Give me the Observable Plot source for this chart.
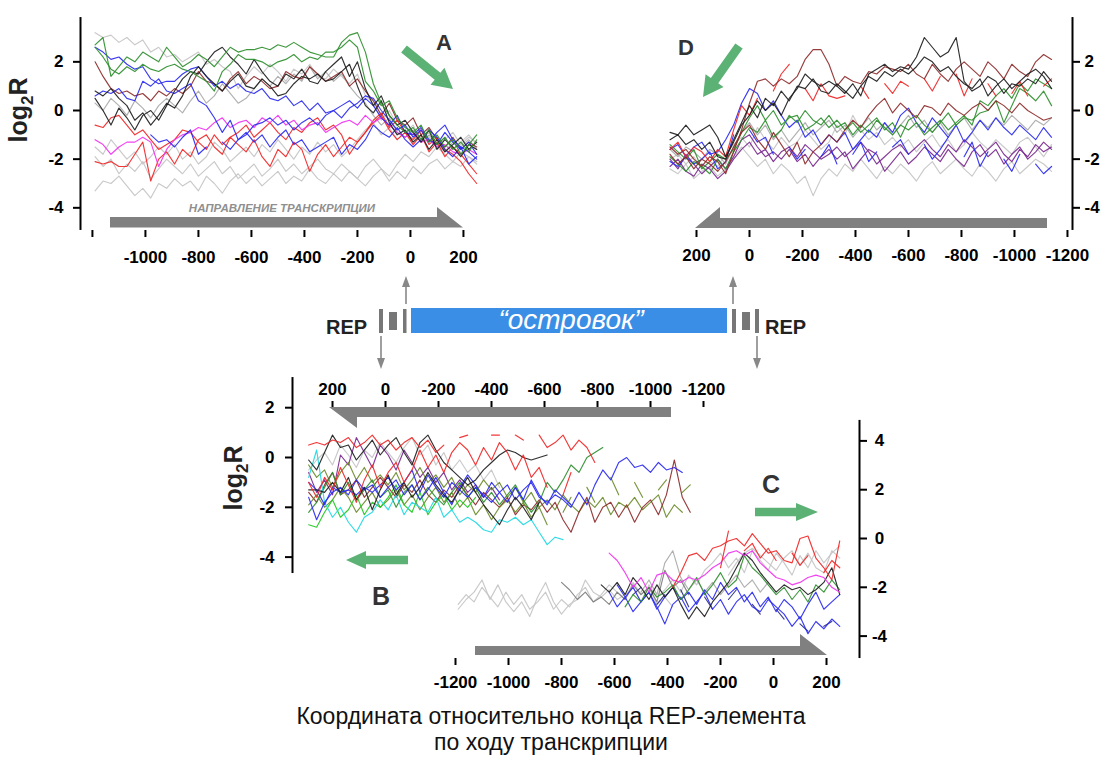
<!DOCTYPE html>
<html><head><meta charset="utf-8">
<script src="https://cdn.jsdelivr.net/npm/d3@7"></script>
<script src="https://cdn.jsdelivr.net/npm/@observablehq/plot@0.6"></script>
<style>
html,body{margin:0;padding:0;background:#fff;}
#wrap{position:relative;width:1103px;height:760px;overflow:hidden;background:#fff;font-family:"Liberation Sans",Arial,Helvetica,sans-serif;}
</style></head><body><div id="wrap"></div>
<script>
const _ = null;
// ---------- sample positions (bp from REP end) ----------
const xA = [-1190,-1160,-1130,-1100,-1070,-1040,-1010,-980,-950,-920,-890,-860,-830,-800,-770,-740,-710,-680,-650,-620,-590,-560,-530,-500,-470,-440,-410,-380,-350,-320,-290,-260,-230,-200,-170,-140,-110,-80,-50,-20,10,40,70,100,130,160,190,220,250];
const xD = [300,270,240,210,180,150,120,90,60,30,0,-30,-60,-90,-120,-150,-180,-210,-240,-270,-300,-330,-360,-390,-420,-450,-480,-510,-540,-570,-600,-630,-660,-690,-720,-750,-780,-810,-840,-870,-900,-930,-960,-990,-1020,-1050,-1080,-1110,-1140];
const xB = [290,260,230,200,170,140,110,80,50,20,-10,-40,-70,-100,-130,-160,-190,-220,-250,-280,-310,-340,-370,-400,-430,-460,-490,-520,-550,-580,-610,-640,-670,-700,-730,-760,-790,-820,-850,-880,-910,-940,-970,-1000,-1030,-1060,-1090,-1120,-1150];
const xC = xA;

// ---------- tick labels ----------
const ticksA = [-1200,-1000,-800,-600,-400,-200,0,200];
const ticksD = [200,0,-200,-400,-600,-800,-1000,-1200];
const ticksB = [200,0,-200,-400,-600,-800,-1000,-1200];
const ticksC = [-1200,-1000,-800,-600,-400,-200,0,200];
const yTicksAD = [-4,-2,0,2];
const yTicksB = [-4,-2,0,2];
const yTicksC = [-4,-2,0,2,4];

// ---------- panel A: log2R ----------
const aGreen1 = [2.7,3.0,1.4,1.8,2.2,2.0,2.4,2.2,2.0,2.6, 2.2,1.8,2.0,2.3,2.1,1.8,2.2,2.6,2.4,2.5, 2.5,2.6,2.5,2.7,2.6,2.8,2.6,2.4,2.3,2.2, 2.2,2.8,3.1,3.2,2.4,1.1,0.3,-0.2,-0.6,-0.9, -0.7,-1.2,-0.8,-1.4,-1.1,-1.6,-1.3,-1.7,-1.2];
const aGreen2 = [2.6,2.2,1.7,1.5,1.8,1.6,1.9,1.7,1.6,1.8, 1.9,1.7,1.6,1.4,1.2,0.8,1.6,1.9,2.3,2.1, 2.1,2.0,1.8,2.0,2.1,2.3,2.0,2.2,2.1,2.4, 2.4,2.6,2.9,2.6,1.2,0.8,0.2,0.4,-0.3,-0.7, -0.9,-0.6,-1.3,-1.0,-1.5,-1.2,-1.8,-1.4,-1.0];
const aBlack1 = [0.5,0.0,-0.6,0.1,-0.3,-0.8,-0.2,0.0,-0.4,0.2, 0.8,1.3,1.6,1.5,2.0,2.4,2.6,2.2,1.9,1.5, 2.1,1.6,1.2,1.0,1.5,1.3,1.7,1.2,1.1,1.6, 1.9,2.2,1.4,2.0,0.9,0.2,0.6,-0.2,-0.6,-0.4, -0.9,-1.3,-0.8,-1.6,-1.2,-1.5,-1.9,-1.4,-1.6];
const aBlack2 = [0.8,0.6,0.9,0.5,0.2,-0.4,-0.1,-0.6,-0.2,0.3, 0.1,0.6,1.4,1.8,1.4,1.1,0.8,1.2,1.5,1.0, 0.9,1.3,1.0,0.6,0.7,1.1,1.4,1.3,1.5,1.2, 1.3,1.6,1.9,1.0,0.2,-0.1,0.4,-0.5,-1.0,-0.8, -1.3,-1.0,-1.6,-1.2,-1.7,-1.4,-1.1,-1.6,-1.3];
const aBlue1 = [2.6,2.4,2.1,2.2,1.9,1.7,1.8,1.3,1.1,1.2, 1.2,1.5,1.7,1.8,1.4,1.0,1.2,0.9,1.1,0.8, 0.7,0.9,0.5,0.4,0.6,0.2,0.4,0.0,0.3,-0.1, 0.0,-0.3,0.1,0.3,0.6,0.5,0.0,-0.4,-0.8,-0.6, -1.1,-0.8,-1.3,-0.9,-0.6,-1.2,-1.5,-1.7,-2.0];
const aBlue2 = [0.6,0.8,0.7,0.9,0.5,0.4,1.2,1.0,1.3,0.8, 0.7,0.9,1.1,0.4,0.2,-0.3,-0.9,-0.4,-1.2,-1.0, -0.6,-0.5,-0.3,-0.6,-0.4,-0.8,-0.5,-0.3,-0.6,-0.2, 0.0,0.2,0.4,0.1,0.5,0.2,-0.3,-0.6,-0.2,-0.9, -1.0,-0.7,-1.2,-1.4,-0.9,-1.3,-1.6,-1.3,-1.8];
const aBlue3 = [_,_,_,_,_,_,_,-1.0,-1.3,-1.2, -1.5,-1.1,-0.8,-1.8,-1.5,_,-1.3,-1.6,-1.2,-0.9, -1.3,-1.0,-1.5,-1.1,-0.8,-1.4,-1.2,-1.7,-1.5,-1.3, -1.1,-1.8,-1.4,-1.6,-1.2,-0.6,-0.9,-1.1,-0.7,-1.2, -1.5,-1.2,-0.8,-1.1,-1.6,-1.9,-1.5,-2.2,-1.9];
const aRed1 = [-2.1,-2.2,-2.1,-2.3,-2.3,-1.8,-1.3,-2.9,-2.0,-1.7, -2.2,-1.6,-1.9,-1.2,-1.0,-1.5,-1.8,-1.1,-1.4,-1.7, -1.2,-1.9,-2.3,-1.6,-1.9,-1.3,-1.6,-2.5,-1.8,-1.4, -1.9,-1.5,-1.1,-1.3,-0.9,-0.4,-0.1,-0.7,-0.4,-0.9, -1.2,-0.8,-1.4,-1.1,-1.6,-1.8,-2.1,-2.6,-3.0];
const aRed2 = [-0.6,-0.7,-0.3,-0.2,-0.6,-1.0,-0.8,-1.2,-1.6,-1.4, -1.2,-0.8,-0.9,-1.3,-1.6,-1.0,-1.4,-1.1,-0.9,-0.6, -1.1,-0.8,-0.5,-0.9,-1.2,-0.7,-0.9,-0.5,-0.3,-0.8, -0.6,-1.0,-1.8,-1.3,-0.9,-0.5,-0.2,-0.8,-1.2,-0.9, -1.4,-1.0,-1.7,-1.3,-1.9,-1.5,-1.8,-2.2,-2.6];
const aMagenta = [-1.2,-1.4,-1.8,-1.5,-1.3,-1.3,-1.1,-1.3,-2.3,-1.6, -1.2,-1.0,-0.9,-0.7,-0.8,-0.5,-0.3,-0.7,-0.5,-0.4, -0.7,-0.3,-0.5,-0.2,-0.6,-0.4,-0.8,-0.6,-0.5,-0.9, -0.7,-0.5,-0.4,-0.6,-0.2,-0.5,-0.3,-0.6,-0.9,-1.1, -0.9,-1.3,-1.2,-1.5,-1.4,-1.7,-1.8,-1.6,-1.8];
const aBrown = [2.0,1.4,0.9,0.7,0.8,0.6,0.7,0.4,0.8,0.6, 0.9,0.7,1.0,1.6,1.2,1.1,0.8,1.3,1.6,1.1, 1.4,1.2,0.9,1.0,1.6,1.4,1.3,1.8,1.5,1.2, 1.4,1.6,1.0,1.3,0.8,0.4,-0.2,0.3,-0.4,-0.6, -0.3,-1.0,-0.7,-1.2,-1.5,-1.1,-1.6,-1.3,-1.5];
const aGray1 = [3.2,3.0,3.1,2.8,3.0,2.7,2.9,2.4,2.6,2.2, 2.3,2.0,2.2,2.4,1.9,2.1,1.8,1.6,0.9,1.4, 1.8,1.5,1.9,1.6,1.2,1.7,1.5,1.9,1.4,1.3, 1.7,1.4,1.1,1.5,0.6,0.3,-0.4,0.0,-0.6,-0.9, -0.6,-1.2,-0.9,-1.5,-1.1,-1.6,-1.3,-1.0,-1.4];
const aGray2 = [-1.9,-2.3,-2.0,-2.6,-2.2,-2.5,-2.1,-2.8,-2.4,-2.0, -2.3,-2.6,-2.2,-2.7,-2.4,-2.1,-2.6,-2.3,-2.8,-2.5, -2.2,-2.7,-2.4,-2.0,-2.5,-2.2,-2.6,-2.3,-2.0,-2.4, -2.6,-2.2,-2.5,-2.8,-2.3,-2.0,-2.4,-2.7,-2.2,-1.8, -2.1,-1.7,-1.9,-1.5,-1.8,-2.1,-1.7,-1.9,-2.2];
const aGray3 = [-3.3,-2.9,-3.0,-2.7,-3.1,-3.5,-3.2,-3.6,-3.0,-3.2, -2.8,-3.1,-2.9,-3.3,-2.7,-3.0,-3.4,-2.9,-2.6,-3.0, -2.7,-3.1,-2.8,-2.5,-3.0,-2.7,-2.9,-2.4,-2.8,-3.0, -2.6,-2.9,-2.5,-2.8,-3.1,-2.7,-2.4,-2.9,-2.5,-2.8, -2.3,-2.6,-2.2,-2.0,-2.4,-2.1,-2.3,-1.9,-2.1];
const aGray4 = [-1.5,-1.8,-1.2,-1.6,-2.0,-1.7,-2.2,-1.9,-1.5,-1.8, -1.4,-2.0,-1.7,-2.2,-1.9,-1.3,-1.6,-2.1,-1.8,-1.5, -1.9,-1.4,-1.7,-1.2,-1.6,-2.0,-1.5,-1.8,-1.3,-1.7, -1.4,-1.9,-1.6,-1.2,-0.8,-0.5,-1.0,-0.7,-1.2,-0.9, -1.3,-0.8,-1.1,-1.5,-1.2,-0.9,-1.4,-1.1,-1.3];
const aGray5 = [0.3,0.0,0.5,0.2,-0.2,0.4,0.1,-0.3,0.2,0.5, 0.2,-0.1,0.4,0.8,0.3,0.6,1.1,0.7,0.3,0.5, 0.9,1.3,1.0,1.4,1.1,1.5,1.2,1.8,1.3,1.6, 1.2,1.5,1.0,0.6,0.3,-0.2,-0.6,-0.3,-0.9,-1.1, -0.8,-1.3,-1.0,-1.4,-1.7,-1.3,-1.5,-1.2,-1.6];

// ---------- panel D: log2R ----------
const dBrown1 = [-1.5,-1.8,-1.6,-2.0,-2.3,-1.9,-2.1,-2.6,-1.7,-0.8, 0.3,1.2,1.3,1.0,1.3,1.1,1.4,2.1,2.5,2.5, 1.9,1.0,1.4,1.2,1.1,1.6,1.5,1.8,1.7,1.6, 1.9,1.5,1.3,1.9,1.5,1.2,1.7,2.0,1.7,1.4, 2.0,1.7,1.3,1.9,1.6,1.4,2.0,2.3,2.1];
const dBlack1 = [-0.9,-1.0,-0.6,-1.0,-0.8,-0.6,-1.1,-1.9,-1.3,-0.6, -0.2,0.4,0.0,0.3,-0.2,0.5,0.9,1.5,1.2,1.0, 1.2,1.0,0.7,1.1,0.6,1.5,1.7,1.9,1.6,1.8, 1.7,2.2,3.0,2.6,2.2,2.4,3.0,1.2,0.8,1.0, 1.4,1.2,0.7,1.1,1.0,1.3,1.1,1.6,1.2];
const dBlack2 = [-1.2,-1.0,-1.4,-1.2,-1.6,-1.3,-1.9,-2.0,-1.2,-0.5, 0.2,-0.3,0.5,0.2,0.8,0.4,1.0,0.9,1.3,0.8, 0.7,1.1,0.8,0.5,1.0,1.4,1.2,1.6,1.4,1.7, 1.5,1.8,2.2,2.0,1.6,1.8,1.4,1.1,0.9,1.3, 0.6,1.0,1.3,0.9,1.2,1.5,1.7,1.4,0.9];
const dRed1 = [-1.6,-1.3,-1.9,-1.5,-1.7,-2.1,-1.6,-1.9,-0.8,0.2, -0.2,0.5,_,0.8,1.5,1.9,_,0.9,0.4,1.1, 0.6,0.5,0.6,_,1.0,0.5,_,1.1,0.7,1.2, 1.0,_,1.3,0.8,1.4,_,1.5,0.6,1.3,_, 1.1,0.6,_,0.7,1.2,0.6,_,1.0,1.3];
const dBrown2 = [-1.8,-2.2,-1.9,-2.4,-2.0,-2.2,-2.5,-2.1,-1.5,-0.9, -0.6,-1.2,-1.6,-0.9,-1.4,-1.9,-1.3,-2.2,-1.7,-1.4, -1.0,-1.3,-0.8,-0.4,-0.7,-0.2,0.2,0.5,-0.1,0.3, 0.0,-0.3,0.2,0.1,-0.2,0.3,0.0,-0.2,0.1,0.3, 0.0,0.4,0.2,-0.1,0.3,0.0,-0.2,-0.4,-0.3];
const dGreen1 = [-1.4,-1.7,-2.0,-1.6,-2.4,-2.1,-1.8,-2.0,-1.6,-0.9, -0.3,0.2,-0.4,0.0,-0.6,-0.3,-0.2,-0.8,-0.6,-0.3, -0.7,-0.4,-0.8,-0.5,-0.9,-0.6,-0.3,-0.8,-0.5,-1.1, -0.4,-0.2,-0.6,-0.9,-0.5,-0.1,-0.6,-0.3,-0.4,-0.1, 0.0,0.4,-0.5,0.2,0.9,0.7,0.4,0.8,0.2];
const dGreen2 = [-1.9,-2.2,-2.5,-2.1,-2.3,-2.6,-2.0,-2.4,-1.7,-1.2, -0.7,-0.9,-0.4,-1.1,-0.8,-0.2,-0.5,0.0,-0.4,-0.6, -0.2,-0.7,-0.5,-1.0,-0.6,-0.9,-0.4,-0.7,-1.0,-0.6, -0.8,-0.5,-1.0,-0.7,-0.4,-0.8,-0.5,-0.2,-0.6,0.4, 0.2,0.6,0.9,0.5,1.1,0.8,1.3,1.1,0.9];
const dBlue1 = [-1.6,-1.4,-1.9,-1.5,-1.3,-1.8,-1.7,-1.2,-0.6,0.3, 0.9,0.7,0.0,0.4,-0.2,-0.7,-0.4,-1.1,-0.8,-1.4, -1.0,-1.3,-0.9,-1.6,-1.2,-0.8,-1.1,-0.5,-0.9,-0.2, 0.1,-0.5,-0.9,-0.3,-0.7,-1.1,-0.6,-1.3,-0.9,-0.4, -0.8,-0.3,-0.7,-1.0,-0.6,-0.9,-1.2,-0.7,-1.1];
const dBlue2 = [-2.1,-2.3,-1.9,-2.2,-2.0,-1.7,-2.4,-2.1,-1.0,_, -0.8,-1.3,-1.1,-1.8,_,-1.5,-2.0,-1.6,_,-1.9, -1.4,-2.2,_,-1.8,-1.3,-2.1,-1.7,_,-1.5,-1.2, -1.8,_,-1.4,-2.0,-1.6,-1.1,_,-1.9,-1.3,-2.3, -1.7,_,-2.0,-2.5,-1.8,_,-2.2,-2.6,-2.3];
const dPurple1 = [-2.0,-2.4,-1.8,-2.2,-2.6,-2.3,-2.0,-2.4,-1.9,-1.2, -1.0,-1.5,-1.9,-1.7,-2.0,-1.6,-2.1,-1.8,-2.3,-1.9, -1.6,-2.0,-1.7,-2.4,-2.0,-1.6,-1.8,-2.5,-2.1,-1.7, -2.2,-1.9,-1.5,-1.8,-2.1,-1.6,-2.0,-2.3,-1.7,-1.4, -1.9,-1.6,-2.2,-1.8,-1.5,-2.0,-1.7,-1.3,-1.6];
const dPurple2 = [-2.3,-2.0,-2.5,-2.7,-2.2,-2.4,-2.8,-2.5,-2.0,-1.6, -1.3,-1.8,-1.6,-2.1,-1.7,-1.5,-1.9,-1.4,-1.7,-2.0, -1.8,-1.5,-1.9,-1.6,-1.3,-1.7,-2.2,-1.9,-1.6,-1.4, -1.8,-1.5,-1.2,-1.6,-1.9,-1.4,-1.7,-1.2,-1.5,-1.9, -1.6,-1.3,-1.8,-2.1,-1.6,-1.9,-1.4,-1.7,-1.5];
const dGray1 = [-2.4,-2.6,-2.2,-2.8,-2.5,-2.3,-2.7,-2.4,-1.9,-1.5, -1.9,-2.3,-2.0,-2.6,-2.2,-2.5,-3.0,-2.7,-3.5,-2.8, -2.4,-2.7,-2.2,-2.5,-2.0,-2.4,-2.8,-2.3,-2.6,-2.2, -2.5,-2.9,-2.4,-2.1,-2.6,-2.3,-2.0,-2.4,-2.7,-2.2, -2.5,-2.9,-2.4,-2.1,-2.6,-2.3,-2.0,-2.2,-2.5];
const dGray2 = [-2.0,-1.8,-2.2,-1.9,-2.4,-2.1,-2.3,-1.8,-1.4,-1.1, -1.5,-0.7,-1.2,-1.6,-1.1,-1.5,-1.3,-0.8,-1.2,-1.6, -1.3,-0.6,-1.0,-0.2,-0.8,-1.2,-0.9,-1.4,-1.1,-1.5, -1.2,-1.7,-1.3,-1.0,-1.5,-1.2,-1.7,-1.4,-0.9,-1.3, -1.6,-1.2,-1.5,-1.8,-1.3,-1.1,-1.5,-1.9,-1.4];
const dGray3 = [-1.6,-1.9,-1.5,-1.7,-2.0,-1.6,-1.8,-2.2,-1.5,-0.9, -0.5,-1.0,-0.6,-1.2,-0.8,-1.3,-0.9,-0.5,-1.0,-0.7, -0.4,-0.9,-0.6,-1.1,-0.7,-0.3,-0.8,-0.5,-1.0,-0.6, -0.2,-0.7,-0.4,-0.9,-0.5,-1.0,-0.6,-0.3,-0.8,-0.4, -0.7,-0.3,-0.6,-0.2,-0.5,-0.8,-0.4,-0.6,-0.3];

// ---------- panel B: log2R ----------
const bRed1 = [0.5,0.6,0.5,0.7,0.6,0.8,0.4,0.6,0.9,0.5, 0.7,0.3,0.6,0.8,0.4,0.7,0.2,0.5,_,0.8, 0.9,_,_,0.9,0.9,_,0.9,0.7,_,0.9, 0.4,0.6,0.9,0.3,0.7,0.4,-0.2,_,_,_, _,_,_,_,_,_,_,_,_];
const bRed2 = [-1.0,-1.6,-0.8,-1.3,-0.4,-1.1,-1.8,-0.9,-0.3,-1.2, -0.6,-0.2,-1.0,-0.5,0.3,-0.4,0.1,-0.6,0.2,0.6, 0.3,-0.3,0.4,-0.1,0.6,0.2,-0.5,0.1,-0.8,-0.4, -1.2,_,-1.5,-0.6,_,-1.8,_,_,_,_, _,_,_,_,_,_,_,_,_];
const bBlack1 = [-0.1,-0.5,0.2,0.9,0.4,0.5,-0.1,0.3,0.7,0.1, 0.5,0.8,0.2,-0.3,0.6,0.9,0.3,-0.2,-0.5,-0.8, -1.1,-0.9,-0.5,-0.2,0.1,0.3,0.2,0.0,-0.1,0.0, 0.1,_,_,_,_,_,_,_,_,_, _,_,_,_,_,_,_,_,_];
const bBlack2 = [-1.3,-1.3,-1.4,-1.0,-1.4,-0.8,-1.7,-1.2,-2.1,-1.3, -0.7,-1.5,-1.0,-1.6,-1.2,-0.6,-1.1,-1.5,-1.8,-1.3, -0.8,-1.4,-1.9,-2.3,-2.7,-2.1,-1.6,-2.0,-2.5,-1.8, _,_,_,_,_,_,_,_,_,_, _,_,_,_,_,_,_,_,_];
const bBlue1 = [-1.0,-1.3,-1.9,-1.2,-1.4,-1.3,-1.5,-1.2,-1.4,-1.1, -0.8,-1.3,-1.0,-0.5,-1.4,-0.7,-1.2,-1.6,-1.0,-1.3, -1.6,-1.2,-1.5,-1.8,-1.4,-1.1,-1.7,-1.3,-1.0,-1.6, -1.8,-1.5,-1.7,-2.0,-1.4,-1.9,-1.1,-0.5,-0.9,-0.2, 0.0,-0.4,-0.3,-0.6,-0.2,-0.5,-0.4,-0.6,_];
const bBlue2 = [-1.6,-2.5,-1.8,-1.4,-1.2,-1.5,-0.9,-1.3,-1.1,-1.6, -1.2,-0.9,-1.5,-1.1,-1.7,-1.3,-0.8,-1.4,-1.9,-1.2, -0.7,-1.1,-1.6,-1.0,-1.4,-1.8,-1.2,-1.7,-0.9,-1.5, -1.9,-1.3,-1.6,-1.9,_,_,_,_,_,_, _,_,_,_,_,_,_,_,_];
const bCyan = [-0.8,0.3,-1.8,-2.4,-2.0,-2.6,-3.0,-2.4,-2.2,-1.7, -2.1,-1.5,-2.3,-1.8,-2.0,-2.2,-1.6,-2.4,-2.1,-2.6, -2.4,-2.6,-2.9,-3.0,-2.5,-2.6,-2.4,-2.7,-2.5,-3.0, -3.5,-3.2,-3.3,_,_,_,_,_,_,_, _,_,_,_,_,_,_,_,_];
const bLime = [-2.7,-2.8,-2.2,-1.7,-2.4,-2.1,-1.5,-2.3,-1.8,-2.0, -1.6,-1.1,-1.9,-2.2,-1.4,-2.3,-1.8,-1.5,-2.1,-1.7, -2.0,-1.6,_,_,_,_,_,_,_,_, _,_,_,_,_,_,_,_,_,_, _,_,_,_,_,_,_,_,_];
const bGreen = [-2.2,-1.8,-1.2,-0.6,-1.5,-1.0,-1.7,-1.3,-0.9,-1.6, -1.3,-2.0,-1.4,-1.1,-1.7,-1.2,-1.6,-1.9,-1.4,-1.0, -1.6,-1.2,-1.8,-1.4,-1.9,-1.5,-1.1,-1.7,-2.2,-1.8, -1.0,-1.4,-0.9,-0.3,-0.6,0.0,0.2,0.4,_,_, _,_,_,_,_,_,_,_,_];
const bOlive = [-1.9,-1.5,-2.0,-1.7,-1.2,-1.6,-2.2,-1.8,-1.4,-2.0, -1.7,-1.3,-1.9,-1.5,-2.1,-1.6,-1.2,-1.8,-1.4,-2.0, -1.6,-2.3,-1.9,-2.5,-2.0,-1.7,-2.2,-1.8,-2.4,-2.0, -2.7,_,-2.2,-1.6,_,-1.2,-1.8,_,-0.8,-1.5, _,-1.0,-1.6,_,-1.3,-0.9,_,-1.4,-1.1];
const bBrown1 = [-1.4,-1.8,-1.1,-0.6,-1.5,-1.3,-0.9,-1.6,-1.2,-0.8, -1.2,-1.6,-1.1,-1.4,-0.9,-1.5,-1.8,-1.3,-1.6,-1.1, -1.5,-1.9,-1.4,-1.7,-2.0,-1.6,-2.3,-1.9,-2.1,-1.7, -2.2,-1.8,-2.5,-3.0,-2.2,-1.6,-2.6,-2.0,-1.8,-2.4, -1.9,-2.6,-2.0,-1.7,-2.3,-1.5,-0.1,-1.6,-2.2];
const bBrown2 = [-0.3,-0.8,-0.5,-1.2,-0.6,-0.2,-0.9,-0.4,-1.0,-0.7, -1.1,-0.6,-1.3,-0.9,-0.4,-1.0,-0.7,-1.2,-0.8,-1.5, -1.1,-1.4,-0.9,-1.3,-1.0,-1.6,-1.2,-1.8,-1.4,-2.0, -1.7,-2.1,-1.5,-1.9,-2.2,-1.7,-2.0,-1.6,-2.3,-1.8, -2.0,-1.6,-2.1,-1.8,-1.5,-2.4,-1.9,-2.2,_];
const bPurple = [-0.6,-1.4,-0.9,-1.5,0.1,-0.3,0.8,0.2,-0.4,0.5, 0.1,-0.5,0.3,-0.2,-0.8,-0.4,-1.0,-0.6,-1.3,-0.9, -1.4,-1.1,-1.6,-1.2,-1.7,_,_,_,_,_, _,_,_,_,_,_,_,_,_,_, _,_,_,_,_,_,_,_,_];
const bGray = [-0.5,-0.1,0.2,-0.3,0.5,0.1,-0.4,0.3,0.0,0.6, 0.2,-0.2,0.4,0.8,0.1,0.5,-0.3,0.2,-0.5,-0.1, -0.6,-0.3,-0.9,-0.5,-1.2,_,_,_,_,_, _,_,_,_,_,_,_,_,_,_, _,_,_,_,_,_,_,_,_];

// ---------- panel C: log2R ----------
const cGray1 = [-2.9,-2.5,-2.2,-1.7,-2.5,-1.9,-2.6,-3.0,-2.6,-3.2, -2.4,-1.8,-2.6,-3.1,-2.7,-2.5,-1.7,-2.2,-2.4,-2.1, -2.5,-2.3,-2.0,-2.6,-1.9,-2.4,-2.1,-1.7,-2.2,-1.5, -1.9,-1.3,-1.0,-0.6,-1.2,-0.8,-1.4,-0.5,-0.9,-1.3, -0.6,-1.0,-1.5,-0.7,-1.2,-0.5,-1.0,-0.6,-0.3];
const cGray2 = [-2.7,-2.3,-2.6,-2.0,-2.4,-2.8,-2.2,-2.7,-2.3,-2.9, -2.6,-2.2,-2.9,-2.5,-2.8,-2.3,-2.0,-2.6,-2.3,-1.9, -2.2,-2.5,-1.8,-2.3,-2.0,-2.7,-2.4,-2.8,_,_, _,_,_,_,_,_,_,_,_,_, _,_,_,_,_,_,_,_,_];
const cGray3 = [_,_,_,_,_,_,_,_,_,_, _,_,_,-1.8,-2.1,-2.5,-2.2,-2.6,-2.4,-2.7, -2.2,-2.5,-1.9,-2.3,-2.0,-2.6,-1.3,-2.0,-1.7,-2.3, _,_,_,_,_,_,_,_,_,_, _,_,_,_,_,_,_,_,_];
const cGray4 = [_,_,_,_,_,_,_,_,_,_, _,_,_,_,_,_,_,_,_,_, _,_,_,_,_,_,_,_,_,_, _,_,_,_,-1.5,-1.0,-0.6,-0.4,-0.7,-1.0, -1.3,-0.8,-0.5,-1.1,-0.6,-1.2,-1.4,-0.5,-0.8];
const cGray5 = [_,_,_,_,_,_,_,_,_,_, _,_,_,_,_,_,_,_,_,_, _,_,_,-2.2,-1.7,-2.3,-1.0,-0.5,-1.6,-2.1, -1.7,-2.2,-1.8,-2.3,-1.9,-1.5,-2.0,-1.7,-2.2,-1.8, _,_,_,_,_,_,_,_,_];
const cBlack = [_,_,_,_,_,_,_,_,_,_, _,_,_,_,_,_,_,_,-1.9,-2.2, -1.8,-2.3,-1.6,-2.0,-2.5,-1.9,-2.4,-2.0,-2.7,-3.3, -2.8,-3.2,-2.6,-2.2,-1.8,-1.2,-0.6,-0.9,-1.4,-1.8, -2.2,-1.9,-2.1,-2.0,-2.3,-2.1,-1.8,-1.2,-2.3];
const cBlue1 = [_,_,_,_,_,_,_,_,_,_, _,_,_,_,_,_,_,_,_,-2.2, -2.8,-2.4,-3.0,-2.6,-2.2,-2.8,-3.5,-2.7,-2.4,-3.0, -2.6,-2.2,-2.9,-2.5,-3.1,-2.6,-2.3,-2.8,-3.0,-2.5, -2.8,-3.1,-3.6,-3.2,-3.9,-3.4,-3.7,-3.3,-3.6];
const cBlue2 = [_,_,_,_,_,_,_,_,_,_, _,_,_,_,_,_,_,_,_,_, -1.9,-2.4,-2.0,-2.6,-2.2,-2.9,-2.4,-2.0,-2.5,-2.2, -2.7,-2.1,-2.5,-1.8,-2.3,-2.0,-2.6,-2.2,-2.8,-2.4, -3.0,-2.5,-2.8,-3.3,-2.7,-2.2,-2.9,-2.6,-2.3];
const cNavy = [_,_,_,_,_,_,_,_,_,_, _,_,_,_,_,_,_,_,_,_, _,_,-2.3,-2.0,_,-2.7,-2.3,_,-2.1,-2.8, _,-2.4,-2.9,_,-2.5,-2.1,_,-2.7,-3.1,_, -2.9,-3.3,_,-3.5,-3.8,_,-3.6,-3.4,_];
const cGreen = [_,_,_,_,_,_,_,_,_,_, _,_,_,_,_,_,_,_,_,_, _,-2.8,-2.3,-2.6,-2.0,-2.4,-2.2,-1.9,-2.5,-2.1, -1.6,-2.3,-1.9,-1.4,-2.0,-1.7,-0.7,-1.2,-1.5,-1.9, -2.3,-2.0,-2.5,-2.1,-2.6,-1.9,-2.2,-1.7,-2.1];
const cMagenta = [_,_,_,_,_,_,_,_,_,_, _,_,_,_,_,_,_,_,_,-0.6, -0.9,-1.4,-2.0,-1.6,-2.2,-1.5,-1.4,-1.7,-1.8,-1.6, -1.7,-1.5,-1.2,-1.0,-0.6,-0.5,-0.7,-0.5,-1.0,-1.3, -1.6,-1.7,-1.9,-1.8,-1.6,-1.5,-1.6,-2.0,-2.2];
const cRed1 = [_,_,_,_,_,_,_,_,_,_, _,_,_,_,_,_,_,_,_,_, _,_,_,_,_,_,_,-2.0,-1.4,-0.7, -0.6,-0.9,-0.4,-0.3,-0.1,0.0,-0.3,0.2,-0.2,-0.6, -0.5,-0.9,-1.0,0.0,0.1,-0.8,-1.2,-1.7,-0.1];
const cRed2 = [_,_,_,_,_,_,_,_,_,_, _,_,_,_,_,_,_,_,_,_, _,_,_,_,_,_,_,_,_,_, _,_,_,-1.2,0.3,_,-0.5,-0.2,-0.8,-0.4, -0.9,_,-0.6,-1.1,-0.7,_,-1.4,-0.9,-1.2];

// ---------- colours ----------
const COL = {green:"#2f8f2f", black:"#1e1e1e", blue:"#2b2bf0", red:"#f02828", magenta:"#f033f0",
  brown:"#8e2c2c", gray:"#c4c4c4", gray2:"#a9a9a9", dgray:"#7d7d7d", purple:"#7a2a8f",
  cyan:"#22d8e2", lime:"#22c922", olive:"#6c8c2c", navy:"#2c2c82"};

const seriesA = [[aGray1,"gray"],[aGray2,"gray"],[aGray3,"gray"],[aGray4,"gray"],[aGray5,"gray2"],
  [aBrown,"brown"],[aRed1,"red"],[aRed2,"red"],[aMagenta,"magenta"],[aBlue1,"blue"],[aBlue2,"blue"],[aBlue3,"blue"],
  [aBlack1,"black"],[aBlack2,"black"],[aGreen1,"green"],[aGreen2,"green"]];
const seriesD = [[dGray1,"gray"],[dGray2,"gray"],[dGray3,"gray2"],[dPurple1,"purple"],[dPurple2,"purple"],
  [dBlue1,"blue"],[dBlue2,"blue"],[dGreen1,"green"],[dGreen2,"green"],[dBrown2,"brown"],[dRed1,"red"],
  [dBrown1,"brown"],[dBlack1,"black"],[dBlack2,"black"]];
const seriesB = [[bGray,"gray"],[bPurple,"purple"],[bBrown2,"olive"],[bBrown1,"brown"],[bOlive,"olive"],
  [bGreen,"green"],[bLime,"lime"],[bCyan,"cyan"],[bBlue2,"blue"],[bBlue1,"blue"],[bBlack2,"black"],
  [bBlack1,"black"],[bRed2,"red"],[bRed1,"red"]];
const seriesC = [[cGray1,"gray"],[cGray2,"gray"],[cGray3,"dgray"],[cGray4,"gray"],[cGray5,"gray2"],
  [cNavy,"navy"],[cBlue1,"blue"],[cBlue2,"blue"],[cGreen,"green"],[cBlack,"black"],[cMagenta,"magenta"],
  [cRed2,"red"],[cRed1,"red"]];

const FONT = '"Liberation Sans", Arial, Helvetica, sans-serif';
const wrap = document.getElementById("wrap");

function rowsOf(xs, list) {
  const rows = [];
  list.forEach(([vals, c], i) => vals.forEach((v, j) => rows.push({id: i, x: xs[j], y: v == null ? NaN : v, c: COL[c]})));
  return rows;
}
function lines(rows) {
  return Plot.line(rows, {x: "x", y: "y", z: "id", stroke: "c", strokeWidth: 1.15, strokeOpacity: 0.92});
}
function mount(svg, left, top) {
  Object.assign(svg.style, {position: "absolute", left: left + "px", top: top + "px", background: "transparent",
    maxWidth: "none", overflow: "visible", fontFamily: FONT, fontWeight: "bold"});
  wrap.appendChild(svg);
}
const fmt = d => String(d);

// Panel A
mount(Plot.plot({
  width: 490, height: 270, marginLeft: 80, marginRight: 8.5, marginTop: 0, marginBottom: 40,
  x: {domain: [-1245, 270], range: [80, 481.5], label: null},
  y: {domain: [-5, 4], range: [231.65, 12.68], label: null},
  color: {type: "identity"},
  marks: [
    lines(rowsOf(xA, seriesA)),
    Plot.ruleX([-1245], {y1: -4.93, y2: 3.82, strokeWidth: 2}),
    Plot.axisY({anchor: "left", ticks: yTicksAD, tickSize: 7, tickPadding: 10, tickFormat: fmt, fontSize: 17, strokeWidth: 2, label: null}),
    Plot.axisX({anchor: "bottom", ticks: ticksA, tickSize: 7, tickPadding: 13, tickFormat: d => d === -1200 ? "" : String(d), fontSize: 17, strokeWidth: 2, label: null})
  ]
}), 0, 0);

// Panel D
mount(Plot.plot({
  width: 463, height: 270, marginLeft: 27, marginRight: 31, marginTop: 0, marginBottom: 40,
  x: {domain: [310, -1219], range: [26.85, 432], label: null},
  y: {domain: [-5, 4], range: [231.65, 12.68], label: null},
  color: {type: "identity"},
  marks: [
    lines(rowsOf(xD, seriesD)),
    Plot.ruleX([-1219], {y1: -4.93, y2: 3.82, strokeWidth: 2}),
    Plot.axisY({anchor: "right", ticks: yTicksAD, tickSize: 7, tickPadding: 5, textAnchor: "start", tickFormat: fmt, fontSize: 17, strokeWidth: 2, label: null}),
    Plot.axisX({anchor: "bottom", ticks: ticksD, tickSize: 7, tickPadding: 11, tickFormat: fmt, fontSize: 17, strokeWidth: 2, label: null})
  ]
}), 640, 0);

// Panel B
mount(Plot.plot({
  width: 520, height: 220, marginLeft: 92, marginRight: 3.75, marginTop: 36, marginBottom: 0,
  x: {domain: [351, -1250], range: [92, 516.25], label: null},
  y: {domain: [-5, 3.4], range: [211.5, 2.34], label: null},
  color: {type: "identity"},
  marks: [
    lines(rowsOf(xB, seriesB)),
    Plot.ruleX([351], {y1: -4.66, y2: 3.21, strokeWidth: 2}),
    Plot.axisY({anchor: "left", ticks: yTicksB, tickSize: 7, tickPadding: 11, tickFormat: fmt, fontSize: 17, strokeWidth: 2, label: null}),
    Plot.axisX({anchor: "top", ticks: ticksB, tickSize: 6, tickPadding: 6, tickFormat: fmt, fontSize: 17, strokeWidth: 2, label: null})
  ]
}), 200, 370);

// Panel C
mount(Plot.plot({
  width: 473, height: 290, marginLeft: 9, marginRight: 44, marginTop: 0, marginBottom: 42,
  x: {domain: [-1260, 324.5], range: [9.1, 429], label: null},
  y: {domain: [-5, 5], range: [250, 6], label: null},
  color: {type: "identity"},
  marks: [
    lines(rowsOf(xC, seriesC)),
    Plot.ruleX([324.5], {y1: -4.92, y2: 4.84, strokeWidth: 2}),
    Plot.axisY({anchor: "right", ticks: yTicksC, tickSize: 7, tickPadding: 13, textAnchor: "middle", tickFormat: fmt, fontSize: 17, strokeWidth: 2, label: null}),
    Plot.axisX({anchor: "bottom", ticks: ticksC, tickSize: 7, tickPadding: 10, tickFormat: fmt, fontSize: 17, strokeWidth: 2, label: null})
  ]
}), 430, 410);

// ---------- annotation overlay ----------
function poly(pts, fill) { return `<polygon points="${pts.map(p => p.join(",")).join(" ")}" fill="${fill}"/>`; }
function greenArrow(x1, y1, x2, y2, w, hw, hl) {
  const dx = x2 - x1, dy = y2 - y1, L = Math.hypot(dx, dy), ux = dx / L, uy = dy / L, px = -uy, py = ux;
  const bx = x2 - ux * hl, by = y2 - uy * hl;
  return poly([[x1 + px * w / 2, y1 + py * w / 2], [bx + px * w / 2, by + py * w / 2], [bx + px * hw / 2, by + py * hw / 2],
    [x2, y2], [bx - px * hw / 2, by - py * hw / 2], [bx - px * w / 2, by - py * w / 2], [x1 - px * w / 2, y1 - py * w / 2]], "#5cb175");
}
function thinArrow(x, y1, y2) {
  const d = y2 > y1 ? 1 : -1;
  return `<line x1="${x}" y1="${y1}" x2="${x}" y2="${y2 - d * 9}" stroke="#888" stroke-width="1.6"/>` +
    poly([[x - 4, y2 - d * 11], [x + 4, y2 - d * 11], [x, y2]], "#888");
}
const G = "#808080";
let s = `<svg xmlns="http://www.w3.org/2000/svg" width="1103" height="760" style="position:absolute;left:0;top:0;pointer-events:none" font-family='${FONT}'>`;
// gray half-arrows
s += poly([[110, 217], [437, 217], [437, 207], [463, 227.5], [110, 227.5]], G);
s += poly([[1047, 218], [720, 218], [720, 207], [695, 228], [1047, 228]], G);
s += poly([[671, 407], [329, 407], [357, 428], [357, 417], [671, 417]], G);
s += poly([[475, 646], [800, 646], [800, 634], [827, 655], [475, 655]], G);
s += `<text x="282" y="212" text-anchor="middle" font-size="11.5" font-style="italic" font-weight="bold" fill="#8f8f8f">НАПРАВЛЕНИЕ ТРАНСКРИПЦИИ</text>`;
// y titles
s += `<text transform="translate(27,110) rotate(-90)" text-anchor="middle" font-size="25" font-weight="bold" fill="#222">log<tspan font-size="17" dy="6">2</tspan><tspan dy="-6">R</tspan></text>`;
s += `<text transform="translate(242,478) rotate(-90)" text-anchor="middle" font-size="25" font-weight="bold" fill="#222">log<tspan font-size="17" dy="6">2</tspan><tspan dy="-6">R</tspan></text>`;
// panel letters
s += `<text x="444" y="50" text-anchor="middle" font-size="22" font-weight="bold" fill="#333">A</text>`;
s += `<text x="686" y="55" text-anchor="middle" font-size="22" font-weight="bold" fill="#333">D</text>`;
s += `<text x="381" y="605" text-anchor="middle" font-size="25" font-weight="bold" fill="#333">B</text>`;
s += `<text x="771" y="493" text-anchor="middle" font-size="25" font-weight="bold" fill="#333">C</text>`;
// green arrows
s += greenArrow(404, 49, 453, 89, 9, 22, 20);
s += greenArrow(739, 46, 703, 97, 9, 22, 20);
s += greenArrow(408, 560, 346, 560, 8.5, 18, 20);
s += greenArrow(755, 512, 818, 512, 8.5, 18, 22);
// REP / island diagram
s += `<text x="326" y="334" font-size="20" font-weight="bold" fill="#222">REP</text>`;
s += `<rect x="379" y="309" width="4" height="24" fill="#777"/><rect x="389" y="312" width="8" height="18" fill="#777"/><rect x="403" y="309" width="3.5" height="24" fill="#777"/>`;
s += `<rect x="411" y="308" width="316" height="25" fill="#3a8ee6"/>`;
s += `<text x="571" y="329" text-anchor="middle" font-size="28" font-style="italic" fill="#fff">“островок”</text>`;
s += `<rect x="732" y="309" width="4" height="24" fill="#777"/><rect x="742" y="312" width="8" height="18" fill="#777"/><rect x="755" y="309" width="4" height="24" fill="#777"/>`;
s += `<text x="765" y="334" font-size="20" font-weight="bold" fill="#222">REP</text>`;
s += thinArrow(406, 304, 276);
s += thinArrow(381, 336, 369);
s += thinArrow(733, 304, 276);
s += thinArrow(757, 336, 369);
// caption
s += `<text x="551" y="724" text-anchor="middle" font-size="23" fill="#111">Координата относительно конца REP-элемента</text>`;
s += `<text x="551" y="750" text-anchor="middle" font-size="23" fill="#111">по ходу транскрипции</text>`;
s += `</svg>`;
wrap.insertAdjacentHTML("beforeend", s);
</script>
</body></html>
